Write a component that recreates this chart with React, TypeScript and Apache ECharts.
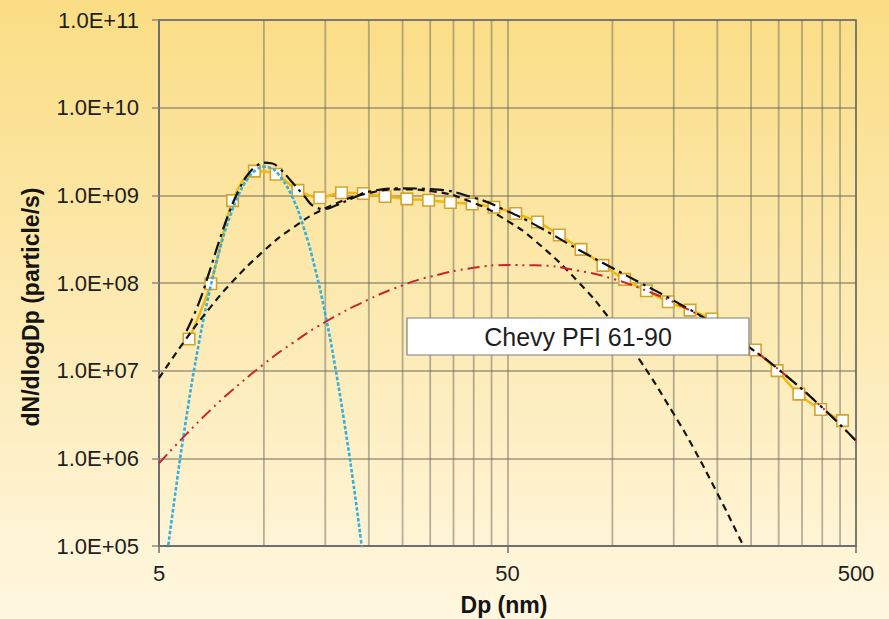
import { useEffect, useRef } from "react";
import * as echarts from "echarts";

// Particle diameter axis starts at 5 nm; x positions are decades above it.
const DP_MIN = 5;
const xTickLabels = ["5", "50", "500"];
const yTickExponents = [5, 6, 7, 8, 9, 10, 11];

// Minor log gridlines (multiples of the decade start)
const minorGridDp = [10, 15, 20, 25, 30, 35, 40, 45, 100, 150, 200, 250, 300, 350, 400, 450];

// Measured size distribution (SMPS channels)
const measuredDp = [
  6.1, 7.04, 8.13, 9.39, 10.84, 12.52, 14.46, 16.7, 19.28, 22.27, 25.71, 29.69, 34.29, 39.59, 45.72,
  52.8, 60.97, 70.4, 81.3, 93.9, 108.4, 125.2, 144.6, 167.0, 192.8, 222.7, 257.1, 296.9, 342.9, 395.9, 457.2,
];
const measuredN = [
  2.3e7, 9.8e7, 8.7e8, 1.89e9, 1.74e9, 1.14e9, 9.4e8, 1.07e9, 1.05e9, 9.7e8, 9.1e8, 8.8e8, 8.3e8, 7.96e8, 7.3e8,
  6.2e8, 4.97e8, 3.53e8, 2.42e8, 1.59e8, 1.1e8, 8.15e7, 6.1e7, 4.9e7, 3.89e7, 2.7e7, 1.72e7, 1.0e7, 5.4e6, 3.6e6, 2.69e6,
];

// Nucleation mode fit
const nucDp = [5.2, 5.5, 6, 6.5, 7, 7.5, 8, 8.5, 9, 9.5, 10, 10.5, 11, 12, 13, 14, 15, 16, 17, 18, 19, 19.5];
const nucN = [
  5.0e4, 2.8e5, 3.05e6, 2.0e7, 8.4e7, 2.55e8, 5.8e8, 1.05e9, 1.56e9, 1.95e9, 2.12e9, 2.03e9, 1.75e9, 1.0e9,
  4.3e8, 1.5e8, 4.4e7, 1.13e7, 2.6e6, 5.7e5, 1.14e5, 5.0e4,
];

// Accumulation mode fit
const accDp = [5, 6, 7, 8, 10, 12, 15, 20, 25, 30, 40, 50, 60, 80, 100, 120, 150, 170, 200, 230, 250];
const accN = [
  8.2e6, 2.35e7, 5.2e7, 9.7e7, 2.33e8, 4.16e8, 7.1e8, 1.06e9, 1.17e9, 1.12e9, 8.2e8, 5.1e8, 3.03e8, 1.02e8,
  3.56e7, 1.31e7, 3.2e6, 1.36e6, 4.0e5, 1.31e5, 6.5e4,
];

// Coarse mode fit
const coarseDp = [5, 6, 7, 8, 10, 12, 15, 20, 25, 30, 40, 50, 60, 80, 100, 130, 160, 200, 250, 300, 400, 500];
const coarseN = [
  8.8e5, 1.9e6, 3.5e6, 5.7e6, 1.19e7, 2.03e7, 3.59e7, 6.5e7, 9.4e7, 1.18e8, 1.49e8, 1.6e8, 1.59e8, 1.38e8,
  1.12e8, 7.7e7, 5.3e7, 3.2e7, 1.78e7, 1.03e7, 3.8e6, 1.58e6,
];

// Sum of the three modes
const sumDp = [
  6, 6.5, 7, 7.5, 8, 8.5, 9, 9.5, 10, 10.5, 11, 12, 13, 14, 15, 16, 18, 20, 25, 30, 40, 50, 60, 80, 100, 120,
  150, 200, 250, 300, 400, 500,
];
const sumN = [
  2.84e7, 5.86e7, 1.4e8, 3.32e8, 6.83e8, 1.18e9, 1.73e9, 2.15e9, 2.36e9, 2.32e9, 2.09e9, 1.44e9, 1.0e9, 7.4e8,
  7.0e8, 7.6e8, 9.3e8, 1.1e9, 1.2e9, 1.18e9, 9.4e8, 6.6e8, 4.6e8, 2.4e8, 1.48e8, 1.01e8, 6.3e7, 3.24e7,
  1.78e7, 1.03e7, 3.8e6, 1.58e6,
];

const sampleLabel = "Chevy PFI 61-90";

const toX = (dp: number) => Math.log10(dp / DP_MIN);
const toY = (n: number) => Math.log10(n);
const pairs = (dp: number[], n: number[]) => dp.map((d, i) => [toX(d), toY(n[i])]);

const FONT = '"Liberation Sans", Arial, sans-serif';

export default function App() {
  const ref = useRef<HTMLDivElement>(null);

  useEffect(() => {
    document.body.style.margin = "0";
    if (!ref.current) return;
    const chart = echarts.init(ref.current, undefined, { renderer: "svg" });

    const fitLine = (color: string, width: number, dash: number[]) => ({
      color,
      width,
      type: dash,
      cap: "butt" as const,
    });

    chart.setOption({
      animation: false,
      backgroundColor: new echarts.graphic.LinearGradient(0, 0, 0, 1, [
        { offset: 0, color: "#fadd84" },
        { offset: 1, color: "#fff7e0" },
      ]),
      grid: {
        left: 159,
        top: 20,
        right: 33,
        bottom: 73,
        show: true,
        backgroundColor: "transparent",
        borderColor: "#8d8a80",
        borderWidth: 2,
      },
      xAxis: {
        type: "value",
        min: 0,
        max: 2,
        interval: 1,
        axisLine: { show: true, lineStyle: { color: "#6e6e6e", width: 2 } },
        axisTick: { show: true, length: 7, lineStyle: { color: "#6e6e6e", width: 1.5 } },
        axisLabel: {
          margin: 16,
          fontSize: 22,
          fontFamily: FONT,
          color: "#1e1e1e",
          formatter: (v: number) => xTickLabels[Math.round(v)] ?? "",
        },
        splitLine: { show: true, lineStyle: { color: "rgba(110,105,90,0.5)", width: 1.8 } },
      },
      yAxis: {
        type: "value",
        min: 5,
        max: 11,
        interval: 1,
        axisLine: { show: true, lineStyle: { color: "#6e6e6e", width: 2 } },
        axisTick: { show: true, length: 7, lineStyle: { color: "#8a8a8a", width: 1.5 } },
        axisLabel: {
          margin: 20,
          fontSize: 22,
          fontFamily: FONT,
          color: "#1e1e1e",
          formatter: (v: number) => {
            const e = yTickExponents.find((x) => x === Math.round(v)) ?? Math.round(v);
            return "1.0E+" + (e < 10 ? "0" : "") + e;
          },
        },
        splitLine: { show: true, lineStyle: { color: "rgba(110,105,90,0.5)", width: 1.8 } },
      },
      series: [
        {
          type: "custom",
          silent: true,
          z: 1,
          data: minorGridDp.map((d) => [toX(d), 5]),
          encode: { x: 0, y: 1 },
          renderItem: (_params: any, api: any) => {
            const top = api.coord([api.value(0), 11]);
            const bot = api.coord([api.value(0), 5]);
            return {
              type: "line",
              shape: { x1: top[0], y1: top[1], x2: bot[0], y2: bot[1] },
              style: { stroke: "rgba(110,105,90,0.5)", lineWidth: 1.8 },
            };
          },
        },
        {
          name: "Measured",
          type: "line",
          z: 2,
          smooth: 0.3,
          data: pairs(measuredDp, measuredN),
          symbol: "rect",
          symbolSize: 11.5,
          lineStyle: { color: "#efb915", width: 2.5 },
          itemStyle: { color: "#ffffff", borderColor: "#d4a42a", borderWidth: 1.6 },
        },
        {
          name: "Nucleation",
          type: "line",
          z: 3,
          smooth: true,
          showSymbol: false,
          data: pairs(nucDp, nucN),
          lineStyle: fitLine("#38aedb", 2.6, [3.5, 2]),
        },
        {
          name: "Accumulation",
          type: "line",
          z: 3,
          smooth: true,
          showSymbol: false,
          data: pairs(accDp, accN),
          lineStyle: fitLine("#151515", 2.2, [7, 5]),
        },
        {
          name: "Coarse",
          type: "line",
          z: 3,
          smooth: true,
          showSymbol: false,
          data: pairs(coarseDp, coarseN),
          lineStyle: fitLine("#c8262b", 2, [12, 5, 2, 5, 2, 5]),
        },
        {
          name: "Sum",
          type: "line",
          z: 3,
          smooth: true,
          showSymbol: false,
          data: pairs(sumDp, sumN),
          lineStyle: fitLine("#111111", 2.2, [14, 5, 3, 5]),
        },
      ],
      graphic: [
        {
          type: "text",
          x: 31,
          y: 307,
          rotation: Math.PI / 2,
          style: {
            text: "dN/dlogDp (particle/s)",
            font: `bold 23px ${FONT}`,
            fill: "#141414",
            textAlign: "center",
            textVerticalAlign: "middle",
          },
        },
        {
          type: "text",
          x: 504,
          y: 605,
          style: {
            text: "Dp (nm)",
            font: `bold 23px ${FONT}`,
            fill: "#141414",
            textAlign: "center",
            textVerticalAlign: "middle",
          },
        },
        {
          type: "rect",
          z: 50,
          shape: { x: 407, y: 318, width: 342, height: 37 },
          style: { fill: "#ffffff", stroke: "#7f7f7f", lineWidth: 1.2 },
        },
        {
          type: "text",
          z: 51,
          x: 578,
          y: 337,
          style: {
            text: sampleLabel,
            font: `25px ${FONT}`,
            fill: "#1e1e1e",
            textAlign: "center",
            textVerticalAlign: "middle",
          },
        },
      ],
    });

    return () => chart.dispose();
  }, []);

  return <div ref={ref} style={{ width: 889, height: 619 }} />;
}
